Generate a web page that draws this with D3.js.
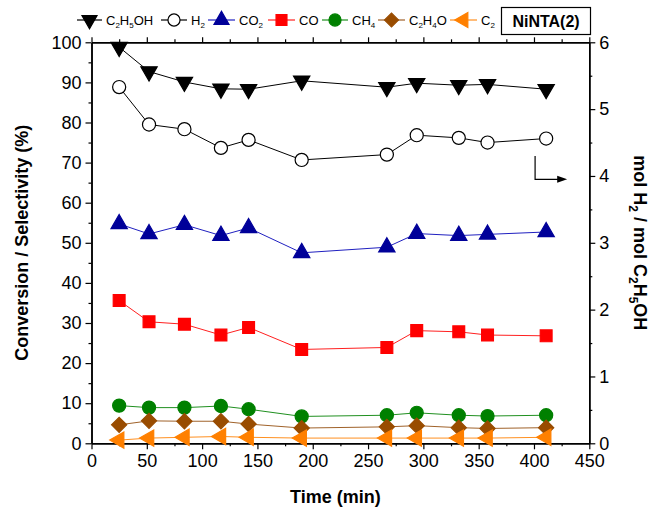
<!DOCTYPE html>
<html><head><meta charset="utf-8">
<script src="https://cdn.jsdelivr.net/npm/d3@7"></script>
<style>body{margin:0;background:#fff}svg{display:block}text{font-family:"Liberation Sans",Arial,sans-serif}</style>
</head><body>
<svg id="c" width="657" height="517"></svg>
<script>
const time = [25, 52, 84, 117, 142, 190, 267, 294, 332, 358, 411];
const ethanol = [98.8, 92.7, 90.1, 88.4, 88.3, 90.4, 88.8, 89.8, 89.3, 89.5, 88.3];
const h2 = [5.33, 4.77, 4.70, 4.42, 4.54, 4.24, 4.32, 4.61, 4.57, 4.50, 4.56];
const co2 = [54.7, 52.2, 54.5, 51.8, 53.7, 47.5, 48.9, 52.3, 51.8, 52.1, 52.7];
const co = [35.6, 30.3, 29.7, 27.0, 28.9, 23.4, 23.9, 28.1, 27.8, 27.0, 26.8];
const ch4 = [9.4, 8.9, 8.9, 9.3, 8.5, 6.7, 7.0, 7.6, 7.0, 6.8, 7.0];
const c2h4o = [4.6, 5.6, 5.5, 5.5, 4.8, 3.8, 4.1, 4.4, 3.9, 3.7, 3.9];
const c2 = [0.8, 1.3, 1.5, 1.7, 1.5, 1.3, 1.3, 1.3, 1.3, 1.3, 1.5];
const xTicks = [0, 50, 100, 150, 200, 250, 300, 350, 400, 450];
const yTicks = [0, 10, 20, 30, 40, 50, 60, 70, 80, 90, 100];
const y2Ticks = [0, 1, 2, 3, 4, 5, 6];

const svg = d3.select("#c");
const L = 91.5, R = 589.3, T = 42.3, B = 443.3;
const x = d3.scaleLinear().domain([0, 450]).range([L, R]);
const y = d3.scaleLinear().domain([0, 100]).range([B, T]);
const y2 = d3.scaleLinear().domain([0, 6]).range([B, T]);

const series = [
  {name: "ethanol", v: ethanol, sc: y, sym: d3.symbolTriangle, rot: 180, size: 115, fill: "#000", stroke: "#000", line: "#000", lgText: [["C",0],["2",1],["H",0],["5",1],["OH",0]]},
  {name: "h2", v: h2, sc: y2, sym: d3.symbolCircle, rot: 0, size: 135, fill: "#fff", stroke: "#000", line: "#000", lgText: [["H",0],["2",1]]},
  {name: "co2", v: co2, sc: y, sym: d3.symbolTriangle, rot: 0, size: 115, fill: "#000099", stroke: "#000099", line: "#2020c0", lgText: [["CO",0],["2",1]]},
  {name: "co", v: co, sc: y, sym: d3.symbolSquare, rot: 0, size: 140, fill: "#ff0000", stroke: "#ff0000", line: "#ff2020", lgText: [["CO",0]]},
  {name: "ch4", v: ch4, sc: y, sym: d3.symbolCircle, rot: 0, size: 135, fill: "#008000", stroke: "#008000", line: "#209020", lgText: [["CH",0],["4",1]]},
  {name: "c2h4o", v: c2h4o, sc: y, sym: d3.symbolSquare, rot: 45, size: 115, fill: "#994c00", stroke: "#994c00", line: "#a0622a", lgText: [["C",0],["2",1],["H",0],["4",1],["O",0]]},
  {name: "c2", v: c2, sc: y, sym: d3.symbolTriangle, rot: -90, size: 115, fill: "#ff8000", stroke: "#ff8000", line: "#ff9020", lgText: [["C",0],["2",1]]}
];

const g = svg.append("g");
function axisTicks(axisGen, transform) {
  const a = g.append("g").attr("transform", transform).call(axisGen);
  a.selectAll("path.domain").attr("stroke", "#000").attr("stroke-width", 1.5);
  a.selectAll(".tick line").attr("stroke", "#000").attr("stroke-width", 1.2);
  return a;
}
const xb = axisTicks(d3.axisBottom(x).tickValues(xTicks).tickSize(6).tickSizeOuter(0).tickPadding(5), `translate(0,${B})`);
xb.selectAll("text").attr("font-size", 18).attr("fill", "#000");
axisTicks(d3.axisBottom(x).tickValues(d3.range(25, 450, 50)).tickSize(3).tickSizeOuter(0).tickFormat(""), `translate(0,${B})`);
axisTicks(d3.axisTop(x).tickValues(xTicks).tickSize(5).tickSizeOuter(0).tickFormat(""), `translate(0,${T})`);
axisTicks(d3.axisTop(x).tickValues(d3.range(25, 450, 50)).tickSize(3).tickSizeOuter(0).tickFormat(""), `translate(0,${T})`);
const yl = axisTicks(d3.axisLeft(y).tickValues(yTicks).tickSize(6).tickSizeOuter(0).tickPadding(4), `translate(${L},0)`);
yl.selectAll("text").attr("font-size", 18).attr("fill", "#000");
axisTicks(d3.axisLeft(y).tickValues(d3.range(5, 100, 10)).tickSize(3).tickSizeOuter(0).tickFormat(""), `translate(${L},0)`);
const yr = axisTicks(d3.axisRight(y2).tickValues(y2Ticks).tickSize(6).tickSizeOuter(0).tickPadding(4).tickFormat(d3.format("d")), `translate(${R},0)`);
yr.selectAll("text").attr("font-size", 18).attr("fill", "#000");
axisTicks(d3.axisRight(y2).tickValues(d3.range(0.5, 6, 1)).tickSize(3).tickSizeOuter(0).tickFormat(""), `translate(${R},0)`);

series.forEach(s => {
  const line = d3.line().x((d, i) => x(time[i])).y(d => s.sc(d));
  svg.append("path").datum(s.v).attr("d", line).attr("fill", "none").attr("stroke", s.line).attr("stroke-width", 1);
});
series.forEach(s => {
  const sym = d3.symbol().type(s.sym).size(s.size);
  svg.append("g").selectAll("path").data(s.v).join("path")
    .attr("d", sym)
    .attr("transform", (d, i) => `translate(${x(time[i])},${s.sc(d)}) rotate(${s.rot})`)
    .attr("fill", s.fill).attr("stroke", s.stroke).attr("stroke-width", 1.2);
});

// arrow indicating right axis for H2
const arrowX0 = x(401), arrowY0 = y2(4.3), arrowY1 = y2(3.95), arrowX1 = x(430);
svg.append("path").attr("d", `M${arrowX0},${arrowY0}V${arrowY1}H${arrowX1 - 8}`).attr("fill", "none").attr("stroke", "#000").attr("stroke-width", 1.2);
svg.append("path").attr("d", `M${arrowX1},${arrowY1}l-10,-3.5v7z`).attr("fill", "#000");

function richText(t, parts, big, small, shift) {
  let down = false;
  parts.forEach(([txt, sub]) => {
    let dy = 0;
    if (sub && !down) { dy = shift; down = true; }
    else if (!sub && down) { dy = -shift; down = false; }
    t.append("tspan").text(txt).attr("font-size", sub ? small : big).attr("dy", dy);
  });
}

// legend
const lgX = [77, 161, 208, 268, 322, 378, 450];
const lgLen = [25, 26, 27, 27, 26, 27, 27];
const lgY = 20;
series.forEach((s, k) => {
  const x0 = lgX[k], len = lgLen[k];
  svg.append("line").attr("x1", x0).attr("x2", x0 + len).attr("y1", lgY).attr("y2", lgY).attr("stroke", s.line).attr("stroke-width", 1.2);
  const sym = d3.symbol().type(s.sym).size(s.size * 0.85);
  svg.append("path").attr("d", sym).attr("transform", `translate(${x0 + len / 2},${lgY}) rotate(${s.rot})`)
    .attr("fill", s.fill).attr("stroke", s.stroke).attr("stroke-width", 1.2);
  const t = svg.append("text").attr("x", x0 + len + 4).attr("y", lgY + 5).attr("fill", "#000");
  richText(t, s.lgText, 13, 8, 3);
});
svg.append("rect").attr("x", 501.5).attr("y", 7.5).attr("width", 89).attr("height", 27).attr("fill", "#fff").attr("stroke", "#000").attr("stroke-width", 1.2);
svg.append("text").attr("x", 546).attr("y", 27).attr("text-anchor", "middle").attr("font-size", 16).attr("font-weight", "bold").text("NiNTA(2)");

svg.append("text").attr("x", (L + R) / 2 - 5).attr("y", 503).attr("text-anchor", "middle").attr("font-size", 18).attr("font-weight", "bold").text("Time (min)");
svg.append("text").attr("transform", `translate(28,${(T + B) / 2}) rotate(-90)`).attr("text-anchor", "middle").attr("font-size", 18).attr("font-weight", "bold").text("Conversion / Selectivity (%)");
const rt = svg.append("text").attr("transform", `translate(634,${(T + B) / 2}) rotate(90)`).attr("text-anchor", "middle").attr("font-weight", "bold");
richText(rt, [["mol H",0],["2",1],[" / mol C",0],["2",1],["H",0],["5",1],["OH",0]], 18, 12, 5);
</script>
</body></html>
